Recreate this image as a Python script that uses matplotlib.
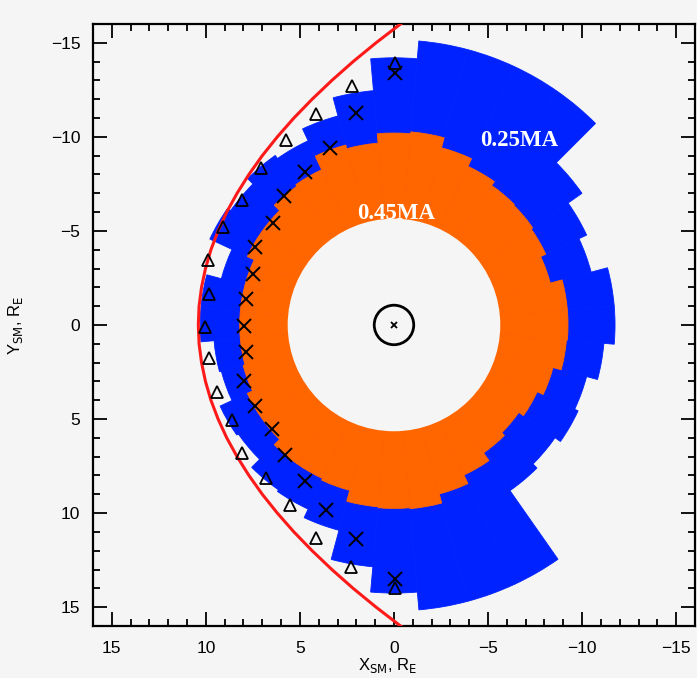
import numpy as np
import matplotlib.pyplot as plt
from matplotlib.patches import Wedge, Circle
from matplotlib.ticker import MultipleLocator

# sector centres (deg, measured in the X-Y data plane) and outer radii, R_E
sector_deg = [-180, -170, -160, -150, -140, -130, -120, -110, -100, -90,
              -80, -70, -60, -50, -40, -30, -20, -10, 0, 10,
              20, 30, 40, 50, 60, 70, 80, 90, 100, 110,
              120, 130, 140, 150, 160, 170]
r_orange = [9.25, 9.25, 8.6, 8.9, 9.0, 9.05, 9.3, 9.75, 10.3, 10.2,
            9.7, 9.9, 9.1, 9.0, 8.6, 8.6, 8.2, 8.2, 8.2, 8.2,
            8.3, 8.6, 8.6, 9.0, 9.0, 9.1, 9.7, 9.75, 9.8, 9.3,
            8.8, 8.3, 8.1, 8.4, 8.75, 9.2]
r_blue = [11.75, 11.75, 10.85, 11.3, 12.2, 15.15, 15.15, 15.15, 15.15, 14.2,
          12.5, 11.5, 10.8, 11.0, 10.6, 10.8, 9.5, 10.3, 10.3, 9.6,
          9.5, 10.2, 10.1, 10.7, 10.8, 11.3, 12.9, 14.25, 15.2, 15.2,
          15.2, 10.75, 10.45, 10.8, 10.6, 11.2]
r_inner = 5.65

# triangles and crosses
tri_x = [-0.03, 2.24, 4.13, 5.72, 7.09, 8.08, 9.09, 9.89, 9.85, 10.03,
         9.85, 9.41, 8.61, 8.06, 6.79, 5.55, 4.13, 2.27, -0.03]
tri_y = [-13.9, -12.69, -11.2, -9.82, -8.32, -6.64, -5.22, -3.45, -1.65, 0.09,
         1.77, 3.54, 5.05, 6.82, 8.14, 9.56, 11.33, 12.84, 13.98]
crs_x = [-0.03, 2.01, 3.39, 4.75, 5.82, 6.44, 7.37, 7.5, 7.85, 7.99,
         7.85, 7.97, 7.37, 6.47, 5.78, 4.75, 3.6, 2.0, -0.03]
crs_y = [-13.37, -11.28, -9.38, -8.14, -6.87, -5.43, -4.16, -2.71, -1.36, 0.05,
         1.42, 2.97, 4.3, 5.54, 6.9, 8.27, 9.86, 11.36, 13.5]

# magnetopause (red line)
mp_y = [-17, -16, -15, -14, -13, -12, -11, -10, -9, -8, -7, -6, -5, -4, -3, -2, -1, 0,
        1, 2, 3, 4, 5, 6, 7, 8, 9, 10, 11, 12, 13, 14, 15, 16, 17]
mp_x = [-1.74, -0.35, 0.95, 2.17, 3.30, 4.35, 5.32, 6.20, 7.00, 7.71, 8.34, 8.89, 9.35,
        9.73, 10.02, 10.23, 10.36, 10.40,
        10.36, 10.23, 10.02, 9.73, 9.35, 8.89, 8.34, 7.71, 7.00, 6.20, 5.32, 4.35, 3.30,
        2.17, 0.95, -0.35, -1.74]

bg = '#f5f5f5'
blue = '#0022ff'
orange = '#ff6600'

fig = plt.figure(figsize=(6.97, 6.78), dpi=100, facecolor=bg)
ax = fig.add_axes([0.1334, 0.0767, 0.8637, 0.888], facecolor=bg)

for th, rb in zip(sector_deg, r_blue):
    ax.add_patch(Wedge((0, 0), rb, th - 5, th + 5, facecolor=blue,
                       edgecolor=blue, lw=0.6, zorder=1))
for th, ro in zip(sector_deg, r_orange):
    ax.add_patch(Wedge((0, 0), ro, th - 5, th + 5, facecolor=orange,
                       edgecolor=orange, lw=0.6, zorder=2))
ax.add_patch(Circle((0, 0), r_inner, facecolor=bg, edgecolor='none', zorder=3))

# earth
ax.add_patch(Circle((0, 0), 1.05, facecolor='none', edgecolor='black', lw=2, zorder=5))
ax.plot([0], [0], 'x', color='black', ms=5, mew=1.3, zorder=5)

ax.plot(mp_x, mp_y, color='#ff1a1a', lw=2.2, zorder=4)
ax.plot(tri_x, tri_y, '^', ms=9, mfc='none', mec='black', mew=1.3, zorder=6)
ax.plot(crs_x, crs_y, 'x', ms=9.5, color='black', mew=1.4, zorder=6)

ax.text(-6.65, -9.8, '0.25MA', color='white', fontsize=16.5, fontweight='bold',
        family='Liberation Serif', ha='center', va='center', zorder=7)
ax.text(-0.1, -5.95, '0.45MA', color='white', fontsize=16.5, fontweight='bold',
        family='Liberation Serif', ha='center', va='center', zorder=7)

ax.set_xlim(16, -16)
ax.set_ylim(16, -16)

for a in (ax.xaxis, ax.yaxis):
    a.set_major_locator(MultipleLocator(5))
    a.set_minor_locator(MultipleLocator(1))
ax.tick_params(which='both', direction='in', top=True, right=True, width=1.3,
               labelsize=12.5, labelfontfamily='Liberation Sans')
ax.tick_params(which='major', length=10)
ax.tick_params(which='minor', length=5)
ax.tick_params(axis='x', pad=11)
ax.tick_params(axis='y', pad=9)
for s in ax.spines.values():
    s.set_linewidth(1.6)

ax.set_xlabel(r'X$_{\rm SM}$, R$_{\rm E}$', fontsize=12, family='Liberation Sans')
ax.set_ylabel(r'Y$_{\rm SM}$, R$_{\rm E}$', fontsize=12, family='Liberation Sans')
ax.xaxis.set_label_coords(0.49, -0.05)
ax.yaxis.set_label_coords(-0.113, 0.5)

fig.savefig('out.png', dpi=100, facecolor=bg)
